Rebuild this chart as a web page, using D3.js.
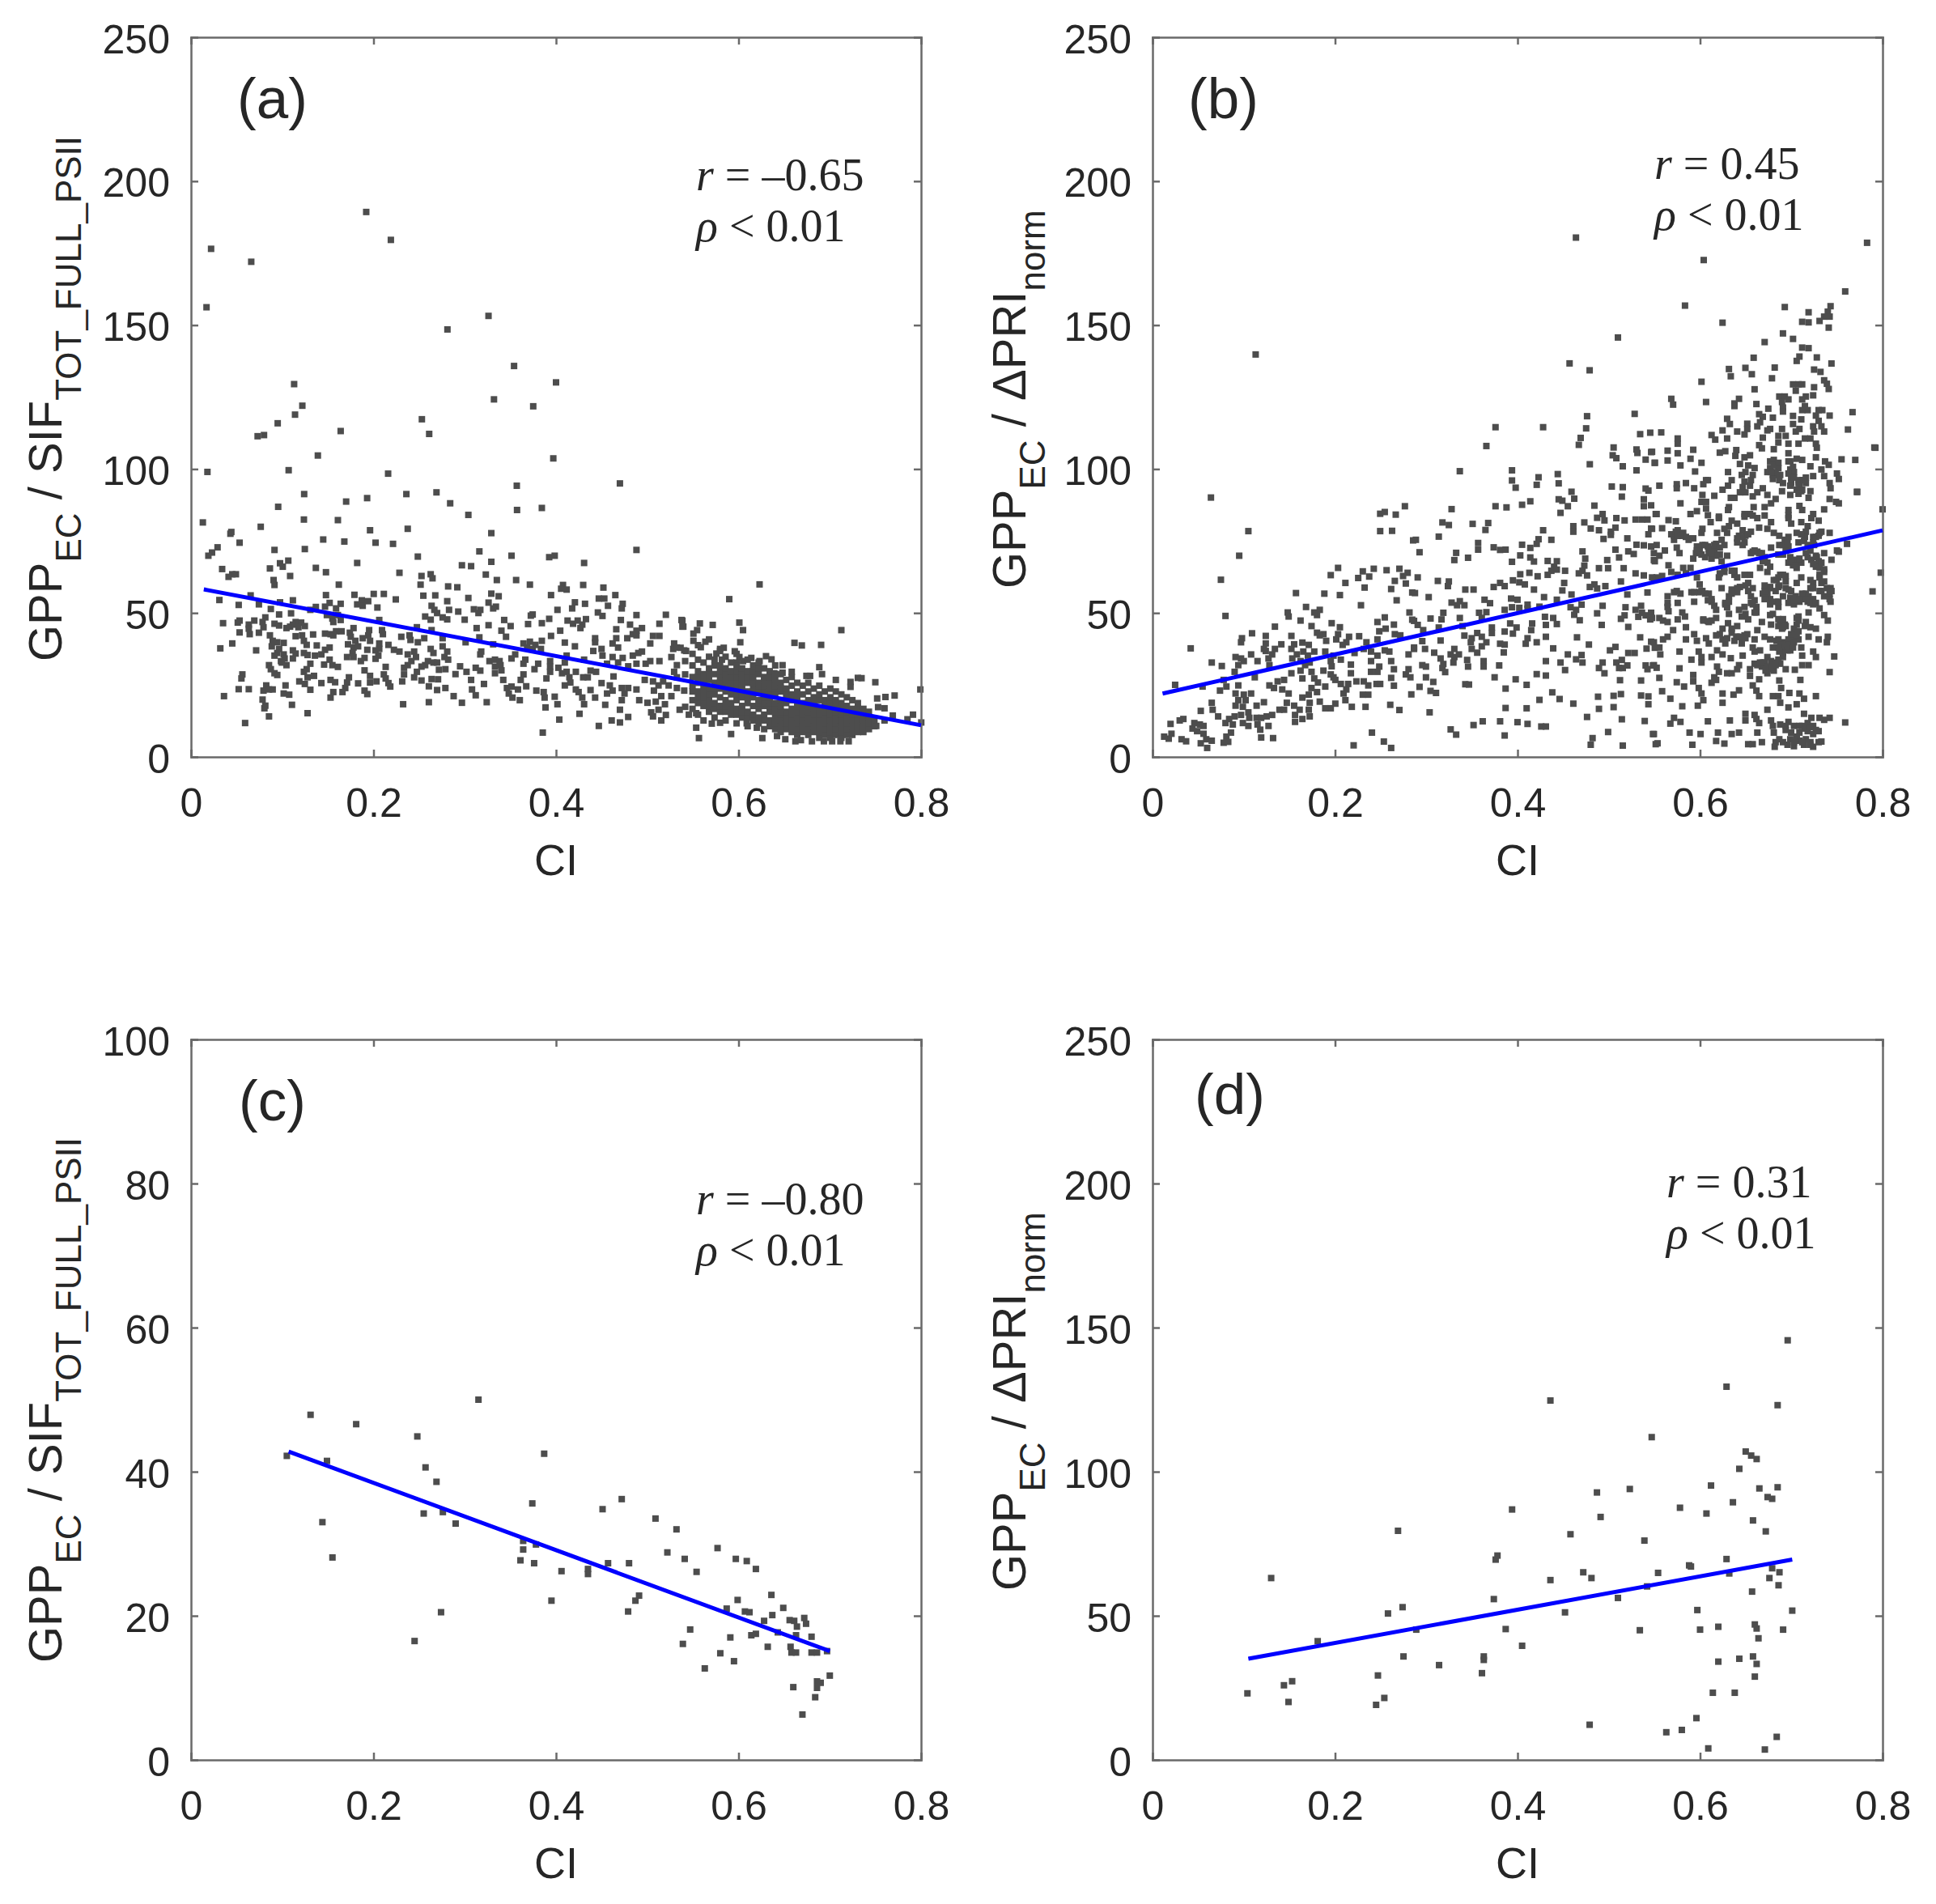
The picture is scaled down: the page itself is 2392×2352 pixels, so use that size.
<!DOCTYPE html>
<html>
<head>
	<meta charset="utf-8">
	<title>GPP ratios against CI</title>
	<script src="https://cdnjs.cloudflare.com/ajax/libs/d3/7.8.5/d3.min.js"></script>
	<style>
		html, body { margin: 0; padding: 0; background: #fff; }
		svg { display: block; }
		text { font-family: "Liberation Sans", Arial, sans-serif; fill: #262626; }
		.stat { font-family: "Liberation Serif", "Times New Roman", serif; }
	</style>
</head>
<body>
	<svg id="svg" width="2392" height="2352"></svg>

	<script>
	const outliersA = [
		.017,156.2,.022,176.5,.066,172,.192,189.3,.219,179.6,.018,99,.113,129.5,.114,118.9,.122,122,.073,111.4,.080,111.8,.095,115.9,.107,99.6,.139,104.7,.164,113.2,.216,98.4,.253,117.3,.261,112.2,.281,148.5,.326,153.2,.332,124.2,.354,135.8,.375,121.8,.400,130.1,.397,103.7,.357,94.2,.470,95,.124,91.3,.193,89.9,.236,91.3,.269,91.9,.170,88.7,.284,88.1
	];
	const pointsA = [
		.094,87.8,.012,82.4,.122,83.4,.159,83.2,.075,80.9,.043,79.1,.042,78.5,.194,79.7,.235,80.2,.052,75.4,.143,76.5,.166,75.8,.200,75.4,.219,75,.028,73.8,.022,72,.018,70.9,.090,72.9,.123,73.2,.246,70.6,.105,69.2,.096,68.3,.099,67.1,.180,68.4,.085,66.5,.135,66.7,.033,66.3,.146,65.2,.226,65,.250,63.9,.260,64.5,.262,63.1,.044,64.5,.040,63.6,.048,64.5,.107,63.9,.089,62.5,.090,60.8,.160,60.9,.249,60.9,.279,60.3,.146,57.3,.177,57.4,.198,57.7,.209,57.7,.252,57.1,.265,57.2,.064,57.2,.030,55.6,.110,55.5,.096,54.8,.222,55.8,.278,55.2,.051,53.9,.073,54.1,.150,54.6,.145,53.3,.162,54.3,.157,52.7,.135,53.2,.129,52.2,.185,55.5,.192,55.2,.180,54.1,.186,53.6,.202,53,.261,53.6,.264,52.2,.267,51.1,.086,52.5,.095,50.6,.108,51,.280,52.2,.147,50.4,.153,49.2,.159,50.4,.162,48.7,.154,48,.254,49.9,.260,48.8,.273,49.6,.278,48.9,.204,48.7,.034,47.6,.052,48.5,.050,47.8,.068,48.5,.062,47.1,.062,45.7,.063,43.8,.080,49.6,.077,48,.078,46.2,.090,47.4,.095,46.8,.103,45.9,.107,46.4,.113,48,.119,47.8,.110,47.1,.116,46.2,.123,46.6,.052,44.4,.073,44.3,.085,43.4,.113,43.1,.120,43.4,.122,41.5,.125,40.1,.132,43.7,.145,44,.151,43.8,.157,44.8,.154,43.4,.163,44.8,.172,44.3,.176,45.9,.173,42.9,.178,41.5,.193,45.2,.192,43.4,.194,41.5,.186,42.4,.207,45.2,.208,43.8,.228,42.9,.237,43.4,.238,41.8,.245,46.2,.253,42.4,.246,41,.261,45.2,.273,42.4,.088,41.5,.087,39.6,.093,41,.100,40.8,.095,38.7,.093,37.3,.100,36.8,.090,36.4,.110,38.2,.113,37.1,.110,35.4,.101,35.4,.097,34.5,.136,39.9,.122,37.3,.126,36.6,.134,36.4,.141,36.8,.150,39.2,.145,38.4,.170,40.3,.176,39.2,.181,39.6,.191,38.4,.200,38.2,.204,40.6,.204,38.7,.203,36.4,.200,35.3,.175,37.3,.169,35.9,.176,35.9,.184,34.5,.188,35.6,.214,40.1,.220,38.4,.226,37.8,.235,36.8,.242,37.8,.244,35.9,.239,34.5,.235,33.1,.260,38.7,.263,37.3,.273,39.6,.278,37.8,.275,35.9,.279,35,.257,34.5,.263,34,.267,34,.254,33.1,.250,32.6,.031,38.9,.044,40.6,.070,38.2,.084,33.1,.086,31.7,.090,30.3,.093,29.7,.098,34,.103,33.1,.129,33.6,.125,31.7,.122,30.8,.126,28.9,.133,29.4,.144,33.3,.150,35,.153,33.1,.159,32.5,.188,31.3,.194,29.4,.211,32.5,.209,29.9,.211,28.5,.214,26.9,.216,25.7,.231,32.2,.231,29.9,.229,27.5,.245,30.8,.242,28.9,.250,27.8,.269,31.5,.276,31.7,.261,28.3,.268,28.2,.258,25.8,.267,24.5,.276,25.2,.055,29.9,.054,28.5,.051,24.8,.062,24.8,.035,22.4,.081,26.1,.078,24.3,.084,24.7,.088,24.7,.102,26.1,.100,23.3,.106,22.9,.077,21.2,.080,19.1,.079,18.2,.109,19.4,.084,15.4,.058,13.1,.126,16.5,.117,27.5,.123,26.6,.129,24.6,.141,26.9,.151,28,.156,27.2,.171,28.9,.169,27.1,.167,25.2,.164,23.8,.181,26.8,.188,24.3,.191,23.1,.194,27.1,.201,27.5,.154,23.8,.151,21.9,.230,19.6,.258,20.3,
		.301,85,.354,86.7,.381,87.4,.326,78.7,.313,72.4,.348,70.9,.389,70.4,.395,70.9,.326,68.8,.294,67.6,.304,67.3,.427,68.4,.484,72.9,.320,64.4,.332,62.5,.353,62.5,.289,60,.368,60.9,.404,60.8,.402,59.5,.408,59.2,.426,60.8,.448,59.9,.326,57.8,.334,56.9,.301,56.3,.391,57.3,.461,57.3,.443,56.1,.449,56.1,.417,54.8,.414,52.7,.428,54.3,.453,53.6,.469,54.3,.468,52.7,.323,54.7,.331,53.3,.328,52.7,.307,52.4,.314,52.2,.312,51.1,.290,51.6,.398,52.2,.371,50.6,.369,50.2,.442,51.3,.447,50.1,.484,50.4,.516,50.5,.297,48.8,.340,48.7,.389,49.1,.381,47.6,.409,48.5,.415,47.4,.420,48.5,.429,49,.425,47.1,.423,45.9,.467,48.7,.533,48.7,.534,46.4,.477,47.1,.509,47.4,.366,47.3,.347,46.6,.323,46.9,.310,45.9,.337,45,.342,42.9,.462,45.5,.401,45,.490,45.9,.484,45,.480,43.8,.474,42.4,.484,43.4,.313,42.7,.391,43.2,.439,42.4,.439,41,.462,42.4,.458,40.6,.464,39.2,.502,43.2,.509,43.2,.499,40.6,.406,40.9,.417,39.6,.525,40.6,.524,38.7,.528,39.2,.536,38.2,.361,40.6,.368,41.2,.374,40.1,.381,41.5,.365,39.2,.380,38.7,.371,38.7,.328,40.3,.298,41,.437,38,.446,38.7,.447,36.4,.486,37.3,.480,36.4,.490,37.8,.314,36.8,.315,37.8,.352,36.8,.348,35.4,.363,35,.361,33.6,.324,34.5,.330,35,.335,34.5,.336,33.1,.330,32.6,.337,31.3,.330,30.3,.408,36.4,.406,34,.390,34.5,.390,32.6,.377,33.6,.373,31.7,.427,35,.458,35.9,.464,34,.469,35.6,.452,33.6,.484,33.6,.494,33.6,.499,34.5,.475,32.7,.509,34.5,.522,35.9,.528,33.1,.537,34.5,.292,32.7,.299,30.8,.287,30,.309,32.2,.314,31.2,.361,29.9,.358,28,.399,32.2,.403,30.3,.408,30.8,.411,28.9,.418,30.8,.434,31.2,.440,30.8,.431,28.9,.426,28.9,.390,30.8,.386,28.5,.459,29.2,.446,26.9,.455,26.1,.458,24.3,.452,23.3,.406,26.1,.412,27.1,.418,24.7,.421,23.8,.434,24.5,.304,28,.318,26.6,.305,24.7,.309,22.7,.339,28,.343,25.2,.348,25.7,.345,23.3,.349,21.9,.357,21,.355,24.7,.364,25.8,.375,24.3,.383,23.8,.384,21.9,.395,22.2,.398,19.6,.425,21.9,.427,19.6,.439,21.9,.450,19.4,.468,25.2,.475,25.2,.471,23.3,.468,21,.466,17.7,.484,24.7,.487,21,.496,20.1,.500,16.8,.508,26.1,.503,24.3,.511,22.4,.505,20.5,.508,17.7,.511,14,.515,19.6,.516,15.9,.502,15.4,.522,22.4,.531,17.7,.537,18.7,.519,26.1,.528,25.2,.536,24.3,.493,28,.502,27.5,.513,27.5,.528,28.9,.525,30.8,.537,29.9,.294,20.1,.321,20.3,.285,22.4,.385,18.5,.400,14.3,.422,16.3,.382,9.8,.443,12.1,.457,14,.466,13.3,.475,15.2,
		.618,61,.585,55.9,.534,48.5,.535,46.4,.553,47.5,.550,45.2,.546,44,.567,47,.596,47.8,.600,45.2,.546,41.5,.559,41.2,.554,39.3,.597,41,.656,40.8,.664,39.9,.685,40.1,.707,45.2,.575,38.7,.579,39.1,.571,37.1,.577,35,.591,37.9,.596,35.9,.593,34,.600,34.5,.609,35.6,.625,36.2,.631,35.1,.618,34.5,.643,33.1,.643,30.5,.653,30.8,.634,30.3,.683,32.4,.686,30,.673,29.4,.669,29.4,.701,28,.717,27.3,.717,25.6,.725,28.7,.729,28.6,.744,27.2,.793,24.7,.746,21.6,.755,22.1,.765,22.6,.747,18.6,.754,18.2,.763,15.7,.754,14,.745,12.1,.779,14.4,.785,16,.794,13.3,.532,39.1,.538,38,.549,11.5,.552,7.9,.566,12.9,.575,13.2,.587,9.3,.615,11.5,.604,13,.621,7.9,.637,8.6,.646,7.5,.657,6.8,.663,7.2,.675,6.8,.688,6.8,.697,6.8,.706,6.8,.715,6.8,.541,16,.549,16.5
	];
	// packed cloud around ci 0.55-0.75, one value list per ci column
	const denseCiA = [.545,.551,.557,.563,.569,.575,.581,.587,.593,.599,.605,.611,.617,.623,.629,.635,.641,.647,.653,.659,.665,.671,.677,.683,.689,.695,.701,.707,.713,.719,.725,.731,.737,.743];
	const denseValA = [
		[18,21,24,26,29,33,37],[16,20,22,24,27,29,31,35,40],[14,19,21,22,24,26,28,30,34],[17,19,21,23,25,28,30,32,36,42],[15,18,20,23,25,27,30,33,35],[17,19,22,25,27,29,31,33,38],[14,17,19,21,24,26,28,30,32,36],[16,18,20,23,25,27,29,31,34],[13,16,18,21,23,25,27,29,31,33,37],[15,17,19,22,24,26,28,30,32],[12,15,17,20,22,24,27,29,31,35],[14,16,19,22,24,25,27,29,31,33],[13,15,18,20,21,24,26,27,30,32,34],[11,14,16,19,20,22,24,26,28,29,32],[12,14,17,19,20,22,24,25,27,29,31],[11,13,15,17,18,20,23,25,26,28,30,33],[10,12,14,16,17,19,21,24,25,27,30],[11,13,15,17,20,22,24,25,28],[10,12,14,16,18,21,23,26,29],[9,11,13,15,17,19,22,24,27],[10,12,14,16,18,20,23,26],[9,11,13,15,17,19,21,24,27],[10,12,14,16,18,20,22,25],[8,10,12,14,16,18,21,23,26],[9,11,13,15,17,19,21,24],[8,10,12,14,16,18,20,22,25],[9,11,13,15,17,19,21,24],[8,10,12,14,16,18,20,23],[9,11,13,15,17,19,22],[9,10,12,14,16,18,21],[10,12,14,16,18,20],[10,12,14,16,18],[11,13,15,17],[12,14]
	];

	const outliersB = [
		.464,180.4,.604,172.6,.113,139.8,.510,145.7,.457,136.7,.479,134.3,.791,107.5,.783,178.6,.772,92,.798,64,.789,57.5,.8,86,.064,90.1
	];
	const pointsB = [
		.273,88,.246,85.4,.251,86,.263,85.1,.246,79.4,.259,79.5,.102,79.4,.092,70.9,.072,62.6,.077,50.1,.039,38.9,.022,26.3,.282,76.2,.200,66.7,.192,64.2,.208,61.5,.227,65.5,.222,63.2,.234,63.7,.239,66.4,.253,65.9,.267,66.4,.276,65,.271,63.9,.262,62.2,.274,61.3,.229,59.9,.258,59.4,.154,58,.185,57.8,.202,57.3,.281,58.2,.264,55.5,.225,53.8,.165,53.2,.180,52.2,.177,50.4,.174,51.3,.145,51.3,.146,49.9,.159,48.5,.278,51.3,.281,48.8,.251,49.6,.243,48,.193,47.6,.131,46.4,.171,46.6,.202,46.2,.200,43.8,.198,42,.261,47.1,.252,45.7,.245,44.8,.262,43.8,.268,43.4,.177,44.3,.184,43.8,.180,43.4,.187,41.5,.212,42.9,.209,41,.205,40.1,.223,43.1,.106,44.1,.121,43.2,.149,43.2,.095,42.4,.094,41,.231,41,.243,42,.121,40.6,.119,38.7,.121,38,.138,40.3,.131,38.7,.128,36.8,.124,35.4,.125,33.1,.152,40.3,.161,40.9,.149,38.7,.155,36.8,.162,37.8,.167,36.4,.150,35.4,.159,34.5,.168,40.1,.174,37.8,.186,37.8,.195,36.4,.203,35,.218,37.3,.228,38.7,.236,37.8,.236,34.5,.243,36.4,.245,32.6,.236,30.8,.243,30.8,.214,33.3,.214,30.3,.256,37.8,.258,34.5,.261,31.7,.251,38.2,.277,36.8,.283,39.2,.088,35.9,.097,34.5,.105,36.8,.112,34.5,.091,33.1,.087,30.8,.094,35.4,.062,34,.073,32.8,.109,28.9,.149,30.3,.159,31.2,.164,33.1,.169,34,.161,28.5,.171,30.8,.192,34.5,.193,32.7,.184,31.2,.192,29.9,.195,28.9,.174,28.5,.178,27.1,.186,25.7,.171,25.2,.177,23.8,.197,28,.203,26.6,.211,26.6,.209,24.7,.206,23.3,.220,27.5,.228,27.5,.233,26.1,.242,26.6,.246,26.6,.258,28.7,.261,26,.277,31.7,.274,29.9,.279,28.9,.280,23,.227,22.9,.233,22.9,.208,21,.257,19.4,.267,17.6,.215,18.7,.230,18.7,.197,19.8,.192,18.2,.186,18.2,.180,20.5,.168,22.9,.161,21.9,.169,20.1,.168,17.7,.169,15.4,.146,23.3,.139,24.7,.125,26.1,.130,25.2,.134,27.5,.141,28,.119,20.3,.111,19.1,.144,20.1,.152,19.1,.136,17.7,.141,17.7,.158,17.7,.153,15.9,.161,14.5,.153,13.5,.075,28,.071,24.3,.078,25.7,.052,25.7,.091,26.1,.088,23.3,.097,22.9,.105,23.3,.091,21,.099,21,.088,19.1,.096,18.7,.102,16.8,.103,14.9,.094,15.9,.111,14.9,.116,14.9,.122,15.4,.128,15.9,.124,12.1,.112,12.6,.115,10.8,.096,13.1,.102,12.1,.087,15.4,.081,14.5,.077,13.1,.085,12.6,.062,20.1,.063,17.7,.069,15.4,.050,17.3,.031,14.5,.027,14,.017,12.8,.043,13.1,.049,12.6,.053,12.1,.041,11.2,.046,10.3,.053,9.4,.056,7.5,.062,7,.050,6.1,.057,4.5,.018,9.4,.015,7.7,.010,8.4,.029,7.5,.034,6.8,.083,9.8,.078,8.4,.080,6.6,.075,6.3,.116,8.1,.129,7.9,.237,9.8,.217,5.4,.250,6.7,.258,4.5,
		.472,119.1,.524,119.9,.372,115.3,.424,115.3,.471,114.9,.465,111.6,.463,109.2,.530,112.9,.541,113.4,.362,108.8,.501,108.3,.500,105.6,.504,104.6,.526,107.6,.527,106.4,.542,106.7,.536,104.1,.546,103,.511,101.8,.526,100.4,.475,102.5,.333,100.1,.390,100.4,.390,96.9,.394,94.4,.419,98,.417,95.4,.440,99.1,.441,95.9,.499,94.8,.511,94.6,.510,91.3,.536,94.1,.539,93.4,.455,93,.458,90.6,.441,90.4,.445,89.9,.451,88,.443,85.7,.410,89.7,.401,88.5,.384,87.6,.372,88,.480,88.2,.534,90.4,.534,88,.542,88.3,.547,85.3,.324,87,.489,85.3,.483,84,.491,83.1,.504,83.9,.513,83.1,.525,83.4,.532,83.4,.538,83.4,.469,82.4,.476,80.3,.485,79.7,.314,82.4,.321,81.5,.347,81.9,.364,82.2,.361,79.8,.457,81.1,.457,79.2,.503,80.6,.498,79.2,.498,78.1,.542,80.3,.539,78.3,.424,79.7,.490,76.7,.516,76.9,.310,77.5,.285,76.4,.419,76.6,.417,75,.433,76.4,.401,74.7,.410,73.6,.353,75.3,.353,73,.370,73.8,.377,72.9,.383,73,.526,74.7,.534,74.5,.542,74.1,.467,72.4,.503,73,.507,70.3,.517,72.4,.523,71.5,.289,72.1,.329,71.9,.327,69.4,.342,70.2,.399,71,.390,68.8,.410,70.3,.414,68.9,.429,69.1,.439,69,.470,69.9,.469,67.5,.467,65.7,.463,64.8,.472,64.1,.494,69.4,.485,66.6,.495,66.6,.512,66.6,.545,69.4,.436,67.1,.433,65.7,.429,64.3,.439,66.1,.448,65.7,.418,63.8,.409,65,.399,64.5,.525,64.8,.534,64.1,.545,63.2,.287,63.4,.309,62.2,.321,62,.320,60.4,.391,62.4,.398,61.7,.404,61,.377,61.5,.370,60.1,.382,60.4,.509,62,.447,61.5,.445,58.9,.480,61,.475,60.1,.483,59.6,.492,60.4,.339,59.2,.348,59.2,.414,59.2,.284,58,.455,57.5,.425,56.6,.299,56.6,.516,57.5,.538,58.2,.389,56.1,.396,55.7,.360,55.7,.366,54.5,.324,54.7,.333,55.2,.338,53.8,.330,53.8,.439,55.7,.407,54,.407,52.6,.398,52.9,.390,53.1,.382,52.2,.420,53.3,.466,54,.454,53.1,.460,52.2,.458,50.5,.464,48.6,.489,53.6,.483,51,.514,53.1,.513,50.3,.509,49.1,.531,53.6,.525,52.2,.532,51.2,.528,49.8,.536,50.3,.542,51.2,.541,48.9,.315,51.2,.313,48.9,.301,49.2,.333,49.4,.354,51.2,.362,51.4,.357,49.4,.283,48.4,.287,47,.293,45.2,.310,46.1,.426,49.8,.435,49.4,.427,47,.439,47.3,.412,47.5,.411,45.2,.388,47.5,.395,46.1,.391,44,.382,44.7,.368,46.1,.368,44.2,.488,47,.517,46.3,.336,46.6,.352,44.2,.346,42.4,.357,42.9,.345,41,.338,43.3,.362,41,.357,39.6,.346,38.7,.352,37.4,.292,41.4,.312,41.6,.283,38.7,.295,38.7,.305,37.4,.327,38.7,.323,36.8,.332,36.8,.327,35.9,.377,40.5,.382,40.2,.381,37.5,.407,42.4,.405,40.5,.417,41,.427,42.9,.461,42.7,.474,40.2,.435,38.9,.530,42.7,.542,41.2,.537,38.8,.546,39.1,.497,38.2,.503,39.4,.517,37.3,.524,37.3,.451,36.8,.466,36.6,.460,35.1,.467,34,.443,34,.448,31.4,.427,34.5,.312,35.4,.315,33.5,.314,32.1,.317,30.7,.292,33.1,.296,32.6,.341,34.9,.342,32.6,.359,34.5,.359,32.6,.326,34,.376,33,.489,34,.485,32.1,.491,30.3,.504,34,.510,34.9,.507,32.1,.516,33,.511,32.1,.536,33,.544,33,.538,31.7,.371,28.9,.394,28.2,.417,30,.427,29.5,.296,28.9,.304,27.3,.289,25.6,.339,26.5,.343,26.4,.383,25,.406,26.3,.301,24.2,.307,23.5,.508,27.9,.531,27.8,.434,23.7,.420,21.1,.442,21.4,.457,19.8,.484,22.2,.501,22.5,.509,23.1,.531,22.6,.539,22.3,.485,18,.501,18.6,.539,19.6,.383,18.3,.406,18.2,.300,16.8,.472,15.2,.510,14.4,.535,13.8,.358,13.7,.348,12.4,.377,13.7,.396,13.4,.407,12.8,.422,11.9,.427,11.9,.323,10.9,.329,9.1,.382,8.8,.495,10,.544,9.3,.478,7.9,.476,5.6,.511,5.3,.547,5.8,
		.754,162.2,.579,157.3,.688,156.8,.714,155,.738,157.1,.735,155.2,.731,153.5,.737,153.5,.726,152,.707,151.7,.714,151.5,.620,151.4,.736,149.7,.686,147.7,.697,145.8,.666,144.7,.707,142.8,.714,142.6,.704,139.7,.701,138.2,.723,139.4,.654,139.3,.739,137.3,.627,135.4,.645,135.8,.652,133.6,.629,132.9,.677,135.9,.674,132.2,.720,135.2,.727,134.4,.597,131,.731,131.5,.734,130.3,.736,128.5,.655,128.4,.697,130.1,.703,130.1,.707,130.1,.700,127.9,.720,129.1,.719,126.3,.564,125.1,.566,123.1,.602,124,.638,125.1,.633,123.5,.633,122.6,.657,123.3,.682,125.9,.688,125.9,.692,124.9,.685,124,.686,122.1,.686,120.7,.711,125.9,.707,124.9,.713,121.2,.707,121.2,.710,122.6,.670,121.7,.725,121.2,.729,121.2,.722,119.3,.737,119.3,.762,120.5,.660,119.8,.664,118.9,.661,117,.658,115.6,.675,118.6,.697,119.2,.706,118,.697,116.4,.625,118.2,.628,116.4,.647,116.5,.647,114.7,.636,113.8,.644,112.8,.672,114.7,.669,114.2,.704,114.7,.700,113.8,.719,115.6,.728,115.6,.731,113.8,.720,113.8,.725,117.5,.757,114.5,.608,112.6,.612,111,.620,114.2,.625,111.4,.553,113.5,.685,114.7,.689,112.3,.681,112.3,.664,111.7,.660,109.1,.663,108,.681,110,.676,107.7,.692,109.6,.703,109.6,.710,111.4,.716,111.4,.722,109.6,.723,108.2,.571,111.4,.571,109.6,.560,107.2,.571,106.3,.588,107.5,.543,106.8,.617,106.5,.623,107,.635,107.4,.634,105.4,.644,104.9,.650,105.6,.787,108.2,.692,106.3,.722,104.9,.750,104.2,.765,104,.560,103.8,.585,104.4,.597,103,.546,103,.732,103.5,.736,102.3,.574,102.1,.639,102.6,.676,104,.681,101.2,.672,101.2,.675,98.8,.681,98.8,.669,99.8,.694,103.5,.694,100.7,.701,104.4,.707,104,.698,99.8,.648,102.1,.655,101.2,.645,99.8,.653,98.8,.716,101.8,.728,100.7,.731,98.4,.719,98.4,.626,99.8,.590,100,.745,99.3,.747,97.4,.641,98.8,.644,96.5,.651,97,.675,97.4,.686,96,.682,97,.695,97.9,.695,96,.703,97,.707,97,.711,96,.704,95.1,.602,97,.604,97,.599,95.6,.580,96,.570,95.6,.551,95.1,.570,94.2,.589,94.2,.630,97,.626,95.1,.620,93.7,.737,96,.738,94.2,.767,93,.642,94.6,.645,92.8,.639,92.8,.650,95.1,.664,94.2,.658,92.8,.653,91.4,.669,91.9,.685,93.2,.694,91.9,.701,93.7,.707,93.7,.716,93.2,.714,90.9,.611,91.6,.598,91.9,.574,89,.597,89.5,.602,89.5,.633,90.9,.629,90.9,.737,90.5,.744,89.5,.747,89,.678,90.5,.673,89,.666,87.7,.654,87.7,.650,85.3,.644,85.3,.704,88.1,.692,86.7,.692,84.9,.707,86.7,.627,87.7,.626,86.7,.731,86.9,.585,85.3,.592,86.3,.602,87.2,.616,84.4,.604,84.9,.548,85.3,.719,85.3,
		.561,83.2,.569,82.8,.554,80.4,.571,79.7,.567,77.8,.564,78.3,.577,78.8,.543,80.2,.598,80.2,.597,78.8,.607,82.5,.616,83.9,.614,78.8,.622,80.2,.627,81.1,.630,83,.636,82,.644,84.4,.653,84.8,.658,83.9,.666,84.8,.673,82.5,.625,78.8,.642,79.7,.645,77.8,.638,77.8,.651,79.2,.660,80.6,.669,80.2,.676,78.8,.682,77.8,.692,83.9,.695,82,.706,82.5,.713,81.1,.717,83.9,.725,83,.711,79.2,.728,79.2,.737,78.8,.701,78.8,.692,77.4,.688,76.4,.719,77.4,.725,77.8,
		.548,74.6,.545,71.8,.546,69,.557,72.7,.551,70.9,.561,67.6,.570,73.7,.573,71.8,.567,76.4,.574,77.8,.583,76.4,.588,76.9,.592,74.1,.598,74.6,.591,71.8,.595,72.7,.588,69.9,.604,74.1,.605,71.8,.613,75,.611,72.7,.617,71.3,.622,74.6,.608,69.9,.601,70.4,.619,76.4,.636,75.5,.642,74.6,.653,72.3,.658,72.3,.663,71.8,.673,73.7,.669,68.5,.661,66.7,.664,69,.672,67.1,.669,65.3,.686,74.6,.691,76,.686,71.3,.681,71.3,.694,70.4,.692,68.5,.700,69.5,.697,67.6,.701,66.7,.703,75.5,.709,76,.713,74.6,.716,72.7,.720,74.6,.711,71.8,.722,70.9,.717,69.5,.725,69,.726,66.7,.731,66.2,.722,67.1,.745,72.7,.747,72.3,.756,75,.739,69.5,.731,71.8,.706,68.5,
		.571,64.3,.577,66.7,.585,66.7,.580,64.8,.564,65.3,.554,63.9,.548,63.4,.543,63.4,.595,61,.592,63.4,.598,58.7,.605,57.8,.619,59.7,.616,63.4,.622,65.3,.633,64.3,.630,65.7,.650,64.3,.648,61.5,.639,60.1,.630,59.2,.653,59.7,.645,60.6,.666,60.6,.672,60.1,.679,62.5,.686,64.3,.689,62,.681,60.1,.692,59.2,.669,57.8,.706,63.4,.701,61.5,.716,59.7,.719,61.5,.726,64.3,.731,62,.738,59.7,.737,57.8,.726,58.7,.711,57.8,.560,56.9,.574,57.8,.570,58.7,.567,58.3,.586,58.3,.589,55,.594,58.3,
		.560,54.6,.561,51.7,.571,54.6,.560,53.2,.576,51.3,.571,48.9,.579,49.9,.611,53.6,.613,52.2,.604,55.5,.608,55,.623,54.6,.625,53.1,.627,56.9,.636,58.3,.644,53.2,.638,52.2,.645,50.8,.655,51.3,.657,53.2,.651,54.6,.664,57.8,.672,55.9,.678,55,.686,56.9,.694,56.4,.698,54.1,.704,55,.681,53.2,.675,50.8,.672,50.4,.713,55,.719,54.1,.726,52.7,.738,55,.731,50.4,.735,48.5,.714,51.3,.703,49.9,.711,48,.627,50.8,.641,49.9,.648,48.9,.551,49.4,.555,48.5,.560,48,.543,49.4,.599,48.9,.605,48,.613,49.4,
		.580,46.2,.566,45.2,.560,42.9,.555,42,.580,42,.589,43.8,.592,41.5,.602,42.4,.605,40.6,.626,47.6,.620,45.7,.630,45.7,.636,46.6,.617,43.8,.613,43.4,.620,42,.623,40.6,.636,42.9,.644,43.4,.633,41.5,.641,41.5,.647,43.8,.658,45.2,.663,48,.673,47.1,.683,48.5,.688,47.1,.685,45.7,.655,42,.666,42.9,.672,42,.679,41.5,.686,41,.692,42,.701,49.4,.701,47.1,.700,44.8,.697,42.9,.710,46.6,.716,46.2,.722,45.7,.714,42.9,.725,42,.735,42.9,.734,41,.703,42,.545,41,.551,39.2,.573,37.8,
		.552,36.8,.545,33.1,.548,32.2,.594,37.8,.597,35.9,.597,34,.586,35,.573,32,.608,35.9,.614,38.2,.620,36.8,.629,35.5,.642,36.4,.638,33.1,.636,31.7,.630,30.3,.625,30.3,.614,32.6,.616,30.8,.611,28.9,.608,27,.613,28,.653,39.2,.661,38.2,.655,37.8,.675,39.2,.681,39.2,.688,38.7,.686,35.9,.694,38.2,.669,35.9,.673,34.5,.664,34,.655,33.6,.650,31.7,.663,32.6,.672,31.7,.669,30.3,.676,31.2,.683,33.6,.681,35,.689,31.7,.699,31.5,.706,39.2,.707,36.4,.707,33.1,.714,33.1,.719,37.8,.722,35.9,.742,36.1,.737,30.7,.650,29.4,
		.551,28.7,.570,27.2,.588,29.7,.588,27.5,.594,25.2,.578,25.7,.554,24.1,.563,21.5,.597,23.3,.599,21,.620,23.3,.620,20.1,.632,22.9,.638,24.4,.660,28.2,.653,26.1,.657,24.3,.660,22.4,.682,27.8,.684,25.2,.693,23.5,.704,23.3,.709,21.5,.705,28,.722,22.4,.675,22.4,.681,22.4,.683,20.1,.692,18.5,.701,19.6,.576,18.9,.593,19.1,
		.669,17.7,.645,16.3,.645,14,.655,15.9,.657,14.5,.660,13.1,.628,14,.604,13.7,.567,14.9,.574,13.5,.563,12.9,.754,13.3,.673,14,.675,12.1,.676,9.8,.683,12.6,.692,13.5,.698,12.1,.689,10.7,.695,9.8,.709,16.3,.717,14.9,.726,14.9,.737,14.9,.731,14.2,.713,13.1,.719,12.1,.707,12.1,.722,10.7,.713,10.3,.704,9.8,.545,9.3,.584,9.8,.596,9.3,.615,9.8,.630,9.3,.638,9.8,.658,9.8,.549,6.1,.587,5.6,.613,6.9,.622,6,.648,5.8,.653,5.8,.663,6.5,.678,6.5,.677,4.9,.686,6.5,.694,7.5,.698,5.1,.704,7,.709,5.6,.716,6.5,.719,4.9,.728,6.7,.701,8,.711,7.5,.691,5.6
	];
	// second pass over the thick clumps right of ci 0.55
	const clumpsB = [
		.666,34,.669,32.6,.675,34,.673,32.2,.678,33.1,.667,31.2,.658,33.1,.661,34,.681,42,.683,40.1,.688,39.2,.691,38.2,.686,37.3,.682,37.8,.692,40.1,.698,41,.697,39.2,.625,42.4,.630,44.3,.635,42.9,.639,42.9,.645,42.4,.641,40.6,.599,48.5,.604,48.3,.608,48.5,.681,49,.686,49,.683,47.6,.689,46.6,.681,46.6,.686,46.2,.703,48.5,.698,45.7,.703,44.8,.695,43.8,.701,43.4,
		.707,57.8,.714,56.9,.719,55.9,.710,55.9,.716,54.6,.722,54.6,.728,58.7,.734,59.7,.739,58.7,.731,56.9,.737,55.9,.672,59.7,.666,58.7,.678,58.7,.682,60.6,.689,59.7,.695,58.7,.700,56.9,.704,55.9,.666,55.9,.672,54.1,.681,55,.692,54.6,.698,55.5,.648,58.7,.651,56.9,.655,55.5,.653,54.1,.657,51.3,.601,57.8,.597,58.7,.608,55.9,.589,58.3,.623,54.1,.627,55,.630,57.8,.636,59.7,
		.592,72.7,.597,71.3,.601,74.6,.605,73.2,.611,74.6,.617,73.7,.613,70.9,.619,69,.625,70.9,.608,71.8,.660,71.8,.666,70.4,.655,72.7,.651,71.8,.695,69,.700,67.6,.704,69.9,.713,70.4,.719,68,.723,70.4,.728,68.5,.731,65.3,.726,63.4,.719,75.5,.722,77.4,.726,78.8,.710,77.4,.706,78.3,.569,79.2,.571,77.8,.576,77.8,.580,77.4,.586,76.9,.642,77.4,.636,76.9,.644,75.5,.648,78.3,.682,74.6,.692,74.1,.689,72.7,
		.617,64.8,.622,66.7,.633,65.7,.636,63.4,.644,64.3,.683,64.3,.681,63.4,.689,63.9,.676,62.5,.716,62.5,.719,59.7,.728,61.5,.704,12.1,.710,11.2,.716,11.7,.719,9.3,.725,10.3,.701,8.4,.707,6.5,.716,5.6,.725,6.5,.698,6.5,.682,7.5,.689,12.1,
		.672,103.5,.676,102.1,.681,103,.678,99.8,.673,99.8,.683,98.8,.692,103.5,.697,101.6,.692,99.3,.698,97.9,.694,95.1,.703,96,.709,97,.706,93.2,.703,92.3,.711,97.9
	];

	const pointsC = [
		.105,42.2,.131,47.9,.149,41.5,.144,33,.155,28.1,.181,46.6,.245,16.5,.248,44.9,.257,40.6,.255,34.2,.269,38.6,.274,20.5,.276,34.4,.290,32.8,.315,50,.361,27.7,.364,29.2,.364,30.4,.374,35.6,.376,27.3,.378,29.9,.387,42.5,.395,22.1,.406,26.2,.435,26.5,.435,25.8,.451,34.8,.457,27.3,.472,36.2,.480,27.3,.479,20.6,.487,22.1,.491,22.8,.509,33.5,.522,28.8,.532,32,.541,27.9,.539,16.1,.547,18.1,.554,26.1,.563,12.7,.577,29.4,.580,14.8,.587,21,.591,17,.595,13.7,.597,27.9,.599,22.2,.609,27.6,.607,20.6,.612,20.5,.619,26.5,.614,17.3,.619,17.5,.628,19.3,.632,15.7,.636,22.9,.637,20.1,.643,17.7,.649,21.1,.656,19.4,.658,14.9,.657,15.7,.660,10.1,.661,19.3,.664,18.5,.663,14.9,.663,17.3,.670,6.3,.672,19.7,.674,18.9,.680,17.1,.680,14.9,.686,14.9,.684,8.7,.686,10.9,.690,10.7,.686,10,.697,15.1,.700,11.7
	];

	const pointsD = [
		.104,23.1,.130,63.1,.144,25.9,.153,27.3,.149,20.1,.181,41.2,.247,29.3,.245,19.1,.254,21.5,.258,50.8,.269,79.5,.274,53,.275,35.9,.289,45.2,.314,32.9,.361,30.1,.363,35.9,.363,34.7,.374,55.8,.376,69.5,.378,70.9,.387,45.4,.394,86.9,.405,39.6,.436,124.7,.436,62.4,.452,51.2,.458,78.3,.472,65.1,.481,63.1,.479,12.2,.487,92.8,.491,84.3,.510,56.2,.523,94,.534,45,.539,76.1,.542,60.2,.547,112,.554,64.9,.563,9.6,.578,87.5,.580,10.4,.588,67.5,.590,67.1,.596,14.5,.597,52,.600,45.2,.607,85.5,.609,4,.612,95.2,.614,23.3,.620,34.1,.620,46.2,.629,129.5,.629,69.7,.632,64.7,.636,89.4,.638,23.3,.643,35.1,.643,101,.650,107,.656,105.6,.662,104.4,.657,58.4,.658,83.1,.658,35.9,.660,28.9,.660,47,.662,45.6,.664,42.2,.662,33.3,.665,94.2,.672,79.3,.671,3.6,.674,91.2,.679,90.6,.676,63.1,.679,66.5,.685,123.1,.685,94.6,.684,8,.687,65.1,.686,60.6,.691,45.2,.696,145.6,.701,51.8
	];

	const fitA = [[.014,58.2],[.8,11]];
	const fitB = [[.011,22],[.8,78.7]];
	const fitC = [[.107,42.8],[.7,15.1]];
	const fitD = [[.105,35.1],[.701,69.5]];

	const xTicks = [0, .2, .4, .6, .8];
	const yTicks250 = [0, 50, 100, 150, 200, 250];
	const yTicks100 = [0, 20, 40, 60, 80, 100];

	const svg = d3.select('#svg');
	const markerSize = 8;

	function toPairs(flat) {
		const out = [];
		for (let i = 0; i < flat.length; i += 2) out.push([flat[i], flat[i + 1]]);
		return out;
	}

	// crop readings to true axis values
	const readA = d => [d[0] * 1.0067 + .0009, d[1] * 1.0056 - 1.41];
	const readB = d => [d[0] * 1.0031 + .0027, d[1] * 1.0056 - 1.41];

	const denseA = denseCiA.flatMap((ci, i) => denseValA[i].map(v => [ci, v]));

	const sifLabel = [['GPP', 0], ['EC', 1], [' / SIF', 0], ['TOT_FULL_PSII', 1]];
	const priLabel = [['GPP', 0], ['EC', 1], [' / ΔPRI', 0], ['norm', 1]];

	const panels = [
		{ name: '(a)', pts: toPairs(outliersA).concat(toPairs(pointsA).concat(denseA).map(readA)), fit: fitA, yMax: 250, yTicks: yTicks250, left: 236, top: 46, bottom: 935, right: 1138,
		  ylab: sifLabel, ylabX: 76, ylabY: 817, tagX: 293, tagY: 146, stat: ['r = –0.65', '0.01'], statX: 860, statY: 235 },
		{ name: '(b)', pts: toPairs(outliersB).concat(toPairs(pointsB).concat(toPairs(clumpsB)).map(readB)), fit: fitB, yMax: 250, yTicks: yTicks250, left: 1424, top: 46, bottom: 935, right: 2326,
		  ylab: priLabel, ylabX: 1267, ylabY: 727, tagX: 1468, tagY: 146, stat: ['r = 0.45', '0.01'], statX: 2044, statY: 221 },
		{ name: '(c)', pts: toPairs(pointsC), fit: fitC, yMax: 100, yTicks: yTicks100, left: 236, top: 1284, bottom: 2174, right: 1138,
		  ylab: sifLabel, ylabX: 76, ylabY: 2054, tagX: 295, tagY: 1384, stat: ['r = –0.80', '0.01'], statX: 860, statY: 1500 },
		{ name: '(d)', pts: toPairs(pointsD), fit: fitD, yMax: 250, yTicks: yTicks250, left: 1424, top: 1284, bottom: 2174, right: 2326,
		  ylab: priLabel, ylabX: 1267, ylabY: 1965, tagX: 1476, tagY: 1376, stat: ['r = 0.31', '0.01'], statX: 2059, statY: 1479 }
	];

	function styleAxis(g) {
		g.selectAll('.domain').attr('stroke', '#6a6a6a').attr('stroke-width', 2.5);
		g.selectAll('.tick line').attr('stroke', '#6a6a6a').attr('stroke-width', 2.5);
		g.selectAll('text').attr('font-size', 50).attr('font-family', '"Liberation Sans", Arial, sans-serif').attr('fill', '#262626');
	}

	panels.forEach(p => {
		const x = d3.scaleLinear().domain([0, .8]).range([p.left, p.right]);
		const y = d3.scaleLinear().domain([0, p.yMax]).range([p.bottom, p.top]);
		const fmtX = d => d === 0 ? '0' : d3.format('.1f')(d);

		svg.append('g').attr('class', 'dots')
			.selectAll('rect')
			.data(p.pts)
			.enter()
			.append('rect')
			.attr('x', d => x(d[0]) - markerSize / 2)
			.attr('y', d => y(d[1]) - markerSize / 2)
			.attr('width', markerSize)
			.attr('height', markerSize)
			.attr('fill', '#4d4d4d');

		svg.append('g').attr('transform', `translate(0,${p.bottom})`)
			.call(d3.axisBottom(x).tickValues(xTicks).tickFormat(fmtX).tickSize(-9).tickPadding(38)).call(styleAxis);
		svg.append('g').attr('transform', `translate(0,${p.top})`)
			.call(d3.axisTop(x).tickValues(xTicks).tickFormat('').tickSize(-9)).call(styleAxis);
		svg.append('g').attr('transform', `translate(${p.left},0)`)
			.call(d3.axisLeft(y).tickValues(p.yTicks).tickSize(-9).tickPadding(26)).call(styleAxis)
			.selectAll('text').attr('dy', '.38em');
		svg.append('g').attr('transform', `translate(${p.right},0)`)
			.call(d3.axisRight(y).tickValues(p.yTicks).tickFormat('').tickSize(-9)).call(styleAxis);

		svg.append('path')
			.attr('d', d3.line().x(d => x(d[0])).y(d => y(d[1]))(p.fit))
			.attr('stroke', '#0000ff')
			.attr('stroke-width', 5)
			.attr('fill', 'none');

		svg.append('text')
			.attr('x', (p.left + p.right) / 2)
			.attr('y', p.bottom + 146)
			.attr('text-anchor', 'middle')
			.attr('font-size', 54)
			.text('CI');

		// y label, pieces with subscripts
		const ylab = svg.append('text')
			.attr('transform', `translate(${p.ylabX},${p.ylabY}) rotate(-90)`)
			.style('white-space', 'pre');
		let wasSub = 0;
		p.ylab.forEach(([txt, sub]) => {
			ylab.append('tspan')
				.attr('font-size', sub ? 44 : 58)
				.attr('dy', sub === wasSub ? 0 : (sub ? 24 : -24))
				.text(txt);
			wasSub = sub;
		});

		svg.append('text')
			.attr('x', p.tagX)
			.attr('y', p.tagY)
			.attr('font-size', 71)
			.text(p.name);

		const rLine = svg.append('text').attr('class', 'stat').attr('x', p.statX).attr('y', p.statY).attr('font-size', 56).style('white-space', 'pre');
		rLine.append('tspan').attr('font-style', 'italic').text('r');
		rLine.append('tspan').text(p.stat[0].slice(1));
		const pLine = svg.append('text').attr('class', 'stat').attr('x', p.statX).attr('y', p.statY + 63).attr('font-size', 56).style('white-space', 'pre');
		pLine.append('tspan').attr('font-style', 'italic').text('ρ');
		pLine.append('tspan').text(' < ' + p.stat[1]);
	});
	</script>
</body>
</html>
